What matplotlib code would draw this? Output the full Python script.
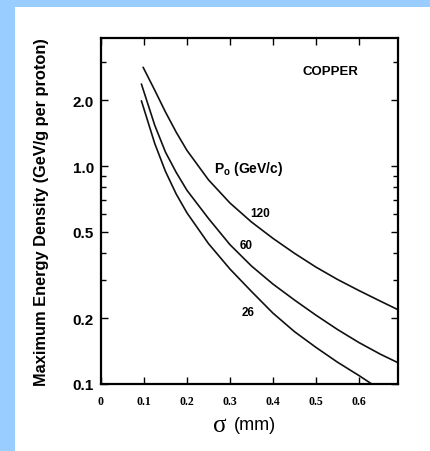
import matplotlib
matplotlib.use("Agg")
import matplotlib.pyplot as plt
from matplotlib.patches import Rectangle
from matplotlib.ticker import FixedLocator, NullFormatter

plt.rcParams["mathtext.fontset"] = "custom"
plt.rcParams["mathtext.rm"] = "Liberation Sans:bold"
plt.rcParams["mathtext.bf"] = "Liberation Sans:bold"

# Data
sigma_120 = [0.098, 0.125, 0.15, 0.175, 0.2, 0.25, 0.3, 0.35, 0.4, 0.45, 0.5, 0.55, 0.6, 0.65, 0.69]
edens_120 = [2.84, 2.23, 1.77, 1.43, 1.18, 0.865, 0.677, 0.554, 0.466, 0.398, 0.344, 0.302, 0.2685, 0.240, 0.2197]

sigma_60 = [0.094, 0.125, 0.15, 0.175, 0.2, 0.25, 0.3, 0.35, 0.4, 0.45, 0.5, 0.55, 0.6, 0.65, 0.69]
edens_60 = [2.38, 1.54, 1.159, 0.935, 0.774, 0.575, 0.436, 0.348, 0.2875, 0.243, 0.207, 0.178, 0.155, 0.137, 0.1255]

sigma_26 = [0.094, 0.125, 0.15, 0.175, 0.2, 0.25, 0.3, 0.35, 0.4, 0.45, 0.5, 0.55, 0.6, 0.63]
edens_26 = [1.993, 1.27, 0.945, 0.744, 0.610, 0.441, 0.337, 0.266, 0.2115, 0.174, 0.1473, 0.126, 0.1094, 0.100]

curve_labels = ["120", "60", "26"]
xtick_vals = [0, 0.1, 0.2, 0.3, 0.4, 0.5, 0.6]
xtick_labels = ["0", "0.1", "0.2", "0.3", "0.4", "0.5", "0.6"]
ytick_vals = [0.1, 0.2, 0.5, 1.0, 2.0]
ytick_labels = ["0.1", "0.2", "0.5", "1.0", "2.0"]
yminor_vals = [0.3, 0.4, 0.6, 0.7, 0.8, 0.9, 3.0]

W, H = 431, 452
fig = plt.figure(figsize=(W / 100, H / 100), dpi=100, facecolor="#99ccff")
bg = Rectangle((15 / W, 0), 1 - 15 / W, 1 - 8 / H, transform=fig.transFigure,
               facecolor="white", edgecolor="none", zorder=-10)
fig.add_artist(bg)

ax = fig.add_axes([101 / W, 1 - 385 / H, 297 / W, 346 / H])
ax.set_zorder(1)
ax.set_facecolor("white")
ax.set_yscale("log")
ax.set_xlim(0, 0.691)
ax.set_ylim(0.1, 3.87)

for xs, ys in [(sigma_120, edens_120), (sigma_60, edens_60), (sigma_26, edens_26)]:
    ax.plot(xs, ys, color="#111111", lw=1.2, solid_capstyle="round",
            solid_joinstyle="round")

for s in ax.spines.values():
    s.set_linewidth(1.6)
    s.set_color("black")

ax.xaxis.set_major_locator(FixedLocator(xtick_vals))
ax.set_xticklabels(xtick_labels, family="Liberation Serif", fontweight="bold", fontsize=8.5)
ax.yaxis.set_major_locator(FixedLocator(ytick_vals))
ax.yaxis.set_minor_locator(FixedLocator(yminor_vals))
ax.yaxis.set_minor_formatter(NullFormatter())
ax.set_yticklabels(ytick_labels, family="Liberation Sans", fontweight="bold", fontsize=11)
ax.tick_params(axis="both", which="major", direction="in", length=5, width=1,
               top=True, right=True)
ax.tick_params(axis="both", which="minor", direction="in", length=3.5, width=1,
               top=True, right=True)
ax.tick_params(axis="y", pad=5)
ax.tick_params(axis="x", pad=8)

ax.set_ylabel("Maximum Energy Density (GeV/g per proton)", family="Liberation Sans",
              fontweight="bold", fontsize=11.8, labelpad=17)

# x-axis title: sigma symbol plus unit
ax.text(0.40, -0.118, "σ", transform=ax.transAxes, family="Liberation Serif",
        fontsize=18, ha="center", va="center")
ax.text(0.448, -0.118, "(mm)", transform=ax.transAxes, family="Liberation Sans",
        fontsize=13, ha="left", va="center")

ax.text(0.773, 0.905, "COPPER", transform=ax.transAxes, family="Liberation Sans",
        fontweight="bold", fontsize=9.5, ha="center", va="center")
ax.text(0.38, 0.625, r"P$_\mathrm{o}$ (GeV/c)", transform=ax.transAxes,
        family="Liberation Sans", fontweight="bold", fontsize=10, ha="left", va="center")

label_pos = [(0.535, 0.494), (0.487, 0.402), (0.496, 0.209)]
for lab, (lx, ly) in zip(curve_labels, label_pos):
    ax.text(lx, ly, lab, transform=ax.transAxes, family="Liberation Sans",
            fontweight="bold", fontsize=8.5, ha="center", va="center")

fig.savefig("out.png", dpi=100, facecolor=fig.get_facecolor())
